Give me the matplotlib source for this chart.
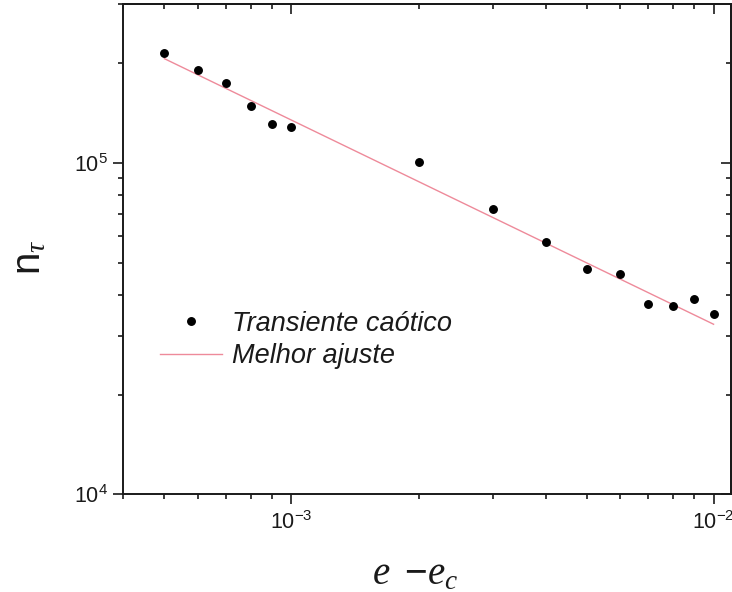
import numpy as np
import matplotlib
matplotlib.use("Agg")
import matplotlib.pyplot as plt
from matplotlib.ticker import LogLocator, NullFormatter, LogFormatterSciNotation

plt.rcParams["font.family"] = ["Liberation Sans", "DejaVu Sans"]
plt.rcParams["mathtext.fontset"] = "custom"
plt.rcParams["mathtext.rm"] = "Liberation Sans"
plt.rcParams["mathtext.it"] = "Liberation Serif:italic"
plt.rcParams["mathtext.bf"] = "Liberation Sans:bold"

# distance to the critical parameter and mean transient length
delta_e = [5e-4, 6e-4, 7e-4, 8e-4, 9e-4, 1e-3,
           2e-3, 3e-3, 4e-3, 5e-3, 6e-3, 7e-3, 8e-3, 9e-3, 1e-2]
n_tau = [2.14e5, 1.91e5, 1.74e5, 1.48e5, 1.31e5, 1.285e5,
         1.008e5, 7.24e4, 5.76e4, 4.77e4, 4.62e4, 3.76e4, 3.70e4, 3.89e4, 3.49e4]

# power-law fit endpoints
fit_x = [5e-4, 1e-2]
fit_y = [2.06e5, 3.26e4]

label_points = "Transiente caótico"
label_fit = "Melhor ajuste"

INK = "#1a1a1a"

fig = plt.figure(figsize=(7.32, 5.92), dpi=100)
ax = fig.add_axes([0.1687, 0.1647, 0.830, 0.8277])

ax.plot(fit_x, fit_y, color="#ee8a9a", lw=1.0, label=label_fit, zorder=2)
ax.plot(delta_e, n_tau, "o", color="black", ms=5.4, label=label_points, zorder=3)

ax.set_xscale("log")
ax.set_yscale("log")
ax.set_xlim(4e-4, 1.1e-2)
ax.set_ylim(1e4, 3e5)

for axis in (ax.xaxis, ax.yaxis):
    axis.set_major_locator(LogLocator(base=10, numticks=10))
    axis.set_minor_locator(LogLocator(base=10, subs=np.arange(2, 10), numticks=20))
    axis.set_major_formatter(LogFormatterSciNotation())
    axis.set_minor_formatter(NullFormatter())

for s in ax.spines.values():
    s.set_linewidth(1.4)
    s.set_color(INK)

ax.tick_params(which="both", direction="out", top=False, right=False,
               width=1.2, color=INK, labelsize=15.5, labelcolor=INK)
ax.tick_params(which="major", length=7)
ax.tick_params(which="minor", length=3.5)
ax.tick_params(axis="x", which="major", pad=5)
ax.tick_params(axis="y", which="major", pad=4)

# inward ticks on the top and right edges
sec_x = ax.secondary_xaxis("top")
sec_x.xaxis.set_major_locator(LogLocator(base=10, numticks=10))
sec_x.xaxis.set_minor_locator(LogLocator(base=10, subs=np.arange(2, 10), numticks=20))
sec_x.tick_params(which="both", direction="in", labeltop=False, width=1.2, color=INK)
sec_x.tick_params(which="major", length=7)
sec_x.tick_params(which="minor", length=3.5)
sec_x.spines["top"].set_linewidth(1.4)
sec_x.spines["top"].set_color(INK)

sec_y = ax.secondary_yaxis("right")
sec_y.yaxis.set_major_locator(LogLocator(base=10, numticks=10))
sec_y.yaxis.set_minor_locator(LogLocator(base=10, subs=np.arange(2, 10), numticks=20))
sec_y.tick_params(which="both", direction="in", labelright=False, width=1.2, color=INK)
sec_y.tick_params(which="major", length=7)
sec_y.tick_params(which="minor", length=3.5)
sec_y.spines["right"].set_linewidth(1.4)
sec_y.spines["right"].set_color(INK)

ax.set_ylabel(r"$\mathrm{n}_{\tau}$", fontsize=29, color=INK, va="center")
ax.yaxis.set_label_coords(-0.155, 0.484)
ax.set_xlabel(r"$e\;\;{-}e_{c}$", fontsize=28, color=INK, va="center")
ax.xaxis.set_label_coords(0.481, -0.162)

leg = ax.legend(handles=[ax.lines[1], ax.lines[0]], loc="center left",
                bbox_to_anchor=((160 - 123.5) / 608, (494.5 - 340) / 490),
                frameon=False, borderpad=0, borderaxespad=0,
                handlelength=2.29, handletextpad=0.37, labelspacing=0.24,
                prop={"size": 19.5, "style": "italic"}, numpoints=1)
for t in leg.get_texts():
    t.set_color(INK)

fig.savefig("out.png", dpi=100)
